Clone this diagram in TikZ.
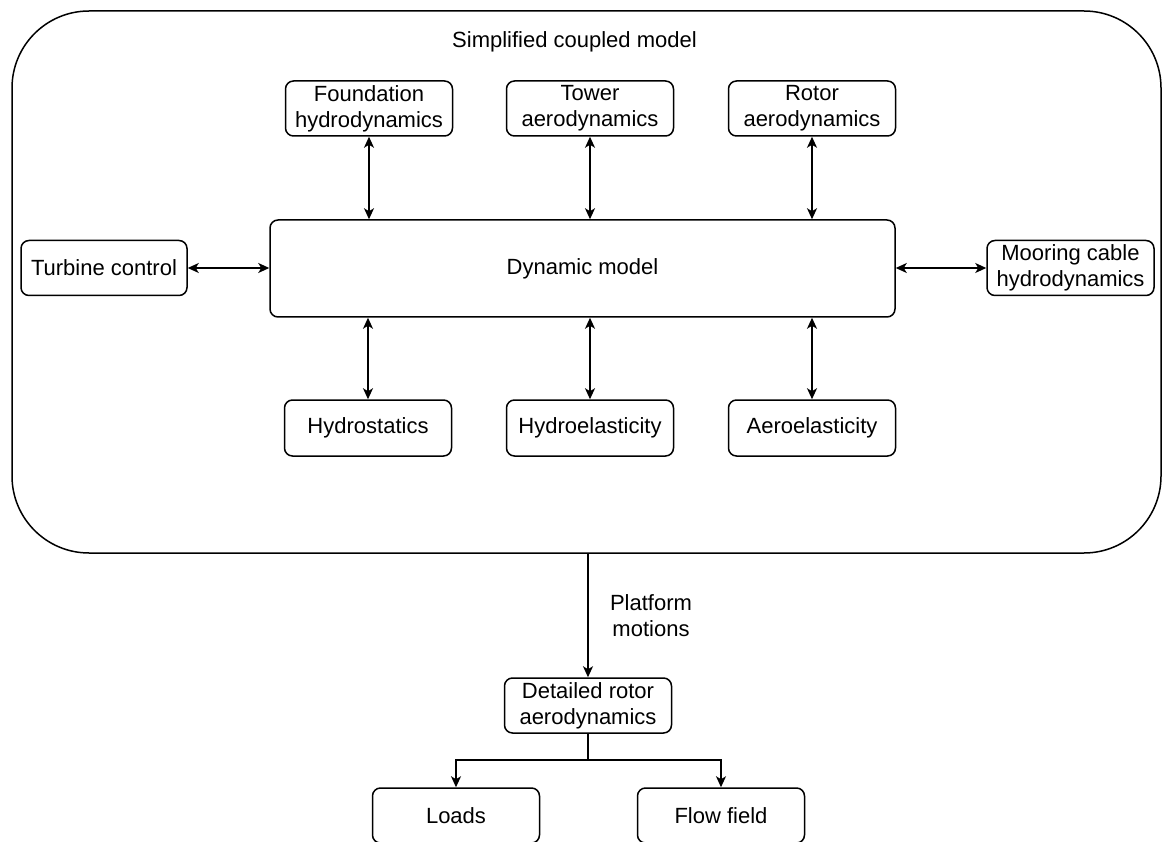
\documentclass[tikz,border=0pt]{standalone}
\usepackage{fontspec}
\setmainfont{Liberation Sans}
\usetikzlibrary{arrows.meta}
\tikzset{
  box/.style={draw, line width=1.5pt, rounded corners=8pt, minimum width=167pt, minimum height=55pt, inner sep=0pt, align=center, font=\fontsize{22}{26}\selectfont},
  txt/.style={inner sep=0pt, align=center, font=\fontsize{22}{26}\selectfont},
  conn/.style={line width=1.5pt, -{Stealth[length=11pt, width=10pt, inset=3pt]}},
  bconn/.style={line width=1.5pt, {Stealth[length=11pt, width=10pt, inset=3pt]}-{Stealth[length=11pt, width=10pt, inset=3pt]}},
  plain/.style={line width=1.5pt}
}
\begin{document}
\begin{tikzpicture}[x=1pt, y=-1pt]
\useasboundingbox (0,0) rectangle (1162,842);
\clip (0,0) rectangle (1162,842);
\node[draw, line width=1.5pt, rounded corners=77pt, minimum width=1149pt, minimum height=542pt, inner sep=0pt] (outer) at (586.5,282) {};
\node[txt] (title) at (574.5,42) {Simplified coupled model};

\node[box] (found) at (369,108.5) {Foundation\\hydrodynamics};
\node[box] (tower) at (590,108.5) {Tower\\aerodynamics};
\node[box] (rotor) at (812,108.5) {Rotor\\aerodynamics};
\node[box, minimum width=625pt, minimum height=97pt] (dyn) at (582.5,268.5) {Dynamic model};
\node[box, minimum width=166pt] (turb) at (104,268) {Turbine control};
\node[box] (moor) at (1070.5,268) {Mooring cable\\hydrodynamics};
\node[box, minimum height=56pt] (hst) at (368,428) {Hydrostatics};
\node[box, minimum height=56pt] (hel) at (590,428) {Hydroelasticity};
\node[box, minimum height=56pt] (ael) at (812,428) {Aeroelasticity};
\node[box] (detail) at (588,705.5) {Detailed rotor\\aerodynamics};
\node[box] (loads) at (456,815.5) {Loads};
\node[box] (flow) at (721,815.5) {Flow field};

\draw[bconn] (found.south) -- (found.south |- dyn.north);
\draw[bconn] (tower.south) -- (tower.south |- dyn.north);
\draw[bconn] (rotor.south) -- (rotor.south |- dyn.north);
\draw[bconn] (hst.north) -- (hst.north |- dyn.south);
\draw[bconn] (hel.north) -- (hel.north |- dyn.south);
\draw[bconn] (ael.north) -- (ael.north |- dyn.south);
\draw[bconn] (turb.east) -- (turb.east -| dyn.west);
\draw[bconn] (moor.west) -- (moor.west -| dyn.east);

\draw[conn] (detail.north |- outer.south) -- (detail.north);
\node[txt] (pm) at (651,616) {Platform\\motions};

\coordinate (split) at (588,760);
\draw[plain] (detail.south) -- (split);
\draw[conn] (split) -| (loads.north);
\draw[conn] (split) -| (flow.north);
\end{tikzpicture}
\end{document}
